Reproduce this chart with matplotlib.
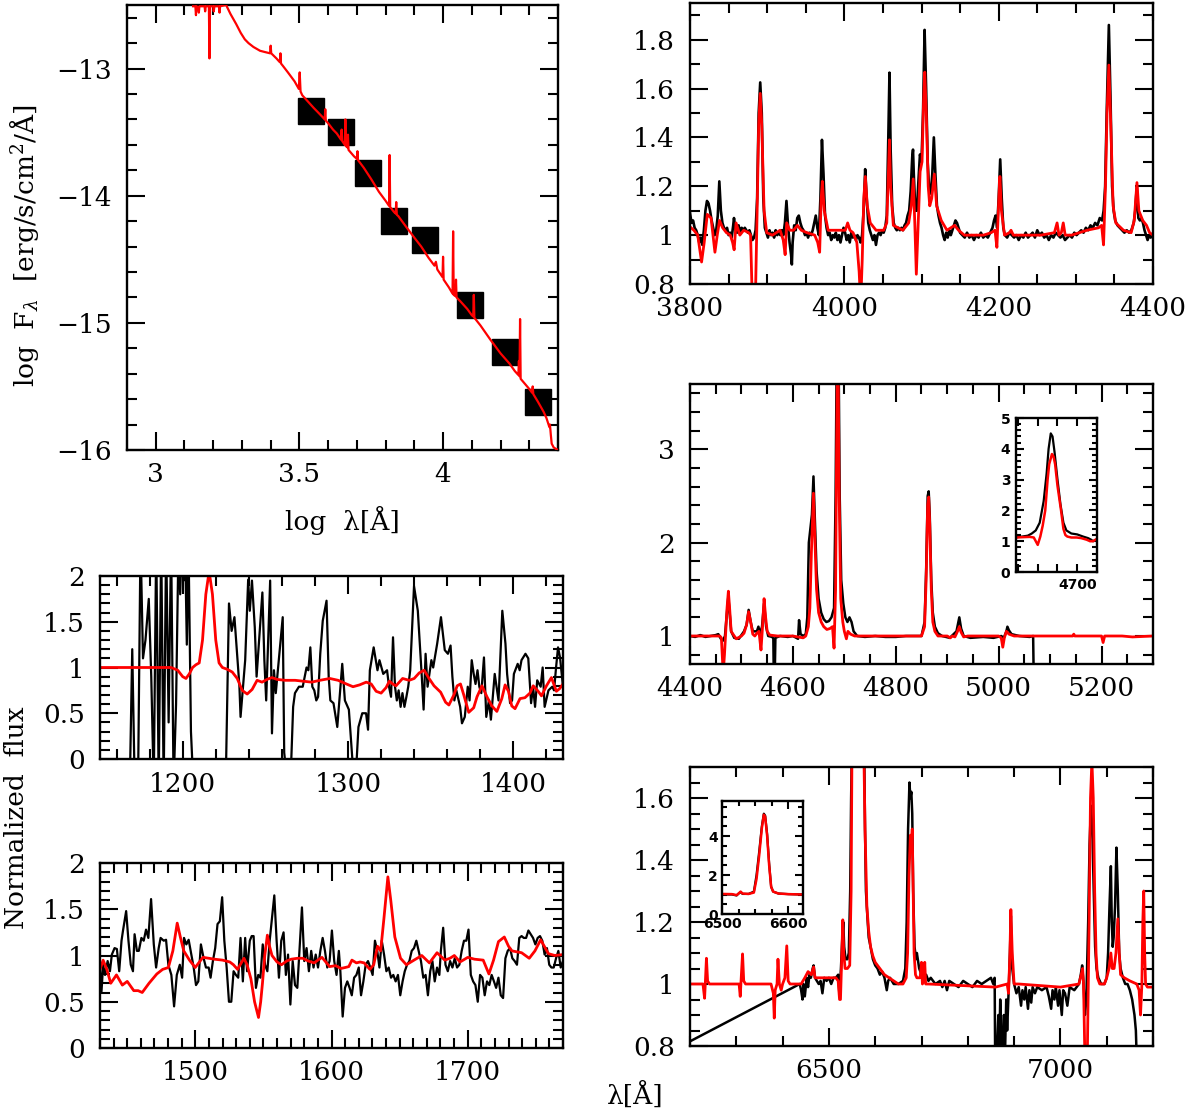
import numpy as np
import matplotlib
matplotlib.use("Agg")
import matplotlib.pyplot as plt
from matplotlib.ticker import MultipleLocator, FixedLocator, FuncFormatter

plt.rcParams['font.family'] = ['DejaVu Serif']
plt.rcParams['mathtext.fontset'] = 'dejavuserif'

# ---------------- DATA ----------------
# SED panel: photometric points (log lambda, log F)
sed_logw = [3.542, 3.646, 3.740, 3.830, 3.937, 4.095, 4.214, 4.331]
sed_logf = [-13.33, -13.50, -13.82, -14.20, -14.35, -14.86, -15.23, -15.62]

# SED model (log lambda, log F)
sed_model = [
    (3.130, -12.51), (3.138, -12.51), (3.140, -12.58), (3.142, -12.51), (3.148, -12.52), (3.150, -12.56),
    (3.152, -12.51), (3.170, -12.51), (3.172, -12.55), (3.174, -12.51), (3.185, -12.51), (3.187, -12.92),
    (3.189, -12.51), (3.200, -12.51), (3.202, -12.55), (3.204, -12.51), (3.220, -12.51), (3.222, -12.56),
    (3.224, -12.51), (3.245, -12.50), (3.260, -12.57), (3.280, -12.65), (3.296, -12.72), (3.310, -12.77),
    (3.323, -12.80), (3.340, -12.83), (3.363, -12.86), (3.380, -12.87), (3.398, -12.88), (3.400, -12.82),
    (3.402, -12.88), (3.420, -12.92), (3.432, -12.95), (3.434, -12.88), (3.436, -12.96), (3.443, -12.98),
    (3.460, -13.03), (3.483, -13.10), (3.498, -13.16), (3.501, -13.03), (3.504, -13.18), (3.510, -13.21),
    (3.530, -13.26), (3.550, -13.31), (3.563, -13.34), (3.580, -13.38), (3.588, -13.40), (3.590, -13.32),
    (3.592, -13.41), (3.600, -13.43), (3.617, -13.48), (3.630, -13.51), (3.645, -13.56), (3.647, -13.48),
    (3.649, -13.57), (3.658, -13.60), (3.660, -13.40), (3.662, -13.61), (3.667, -13.62), (3.669, -13.52),
    (3.671, -13.64), (3.690, -13.69), (3.700, -13.71), (3.702, -13.65), (3.704, -13.72), (3.724, -13.78),
    (3.750, -13.87), (3.777, -13.97), (3.800, -14.04), (3.812, -14.08), (3.814, -13.68), (3.816, -14.09),
    (3.830, -14.13), (3.835, -14.14), (3.837, -14.05), (3.839, -14.15), (3.844, -14.16), (3.870, -14.24),
    (3.900, -14.33), (3.924, -14.40), (3.950, -14.49), (3.970, -14.55), (3.975, -14.52), (3.980, -14.58),
    (3.998, -14.64), (4.000, -14.48), (4.002, -14.66), (4.020, -14.72), (4.033, -14.77), (4.035, -14.28),
    (4.037, -14.78), (4.043, -14.79), (4.045, -14.66), (4.047, -14.80), (4.060, -14.83), (4.084, -14.89),
    (4.100, -14.94), (4.105, -14.95), (4.107, -14.78), (4.109, -14.96), (4.130, -15.02), (4.164, -15.13),
    (4.200, -15.24), (4.231, -15.32), (4.250, -15.38), (4.262, -15.41), (4.264, -15.30), (4.266, -15.42),
    (4.268, -14.97), (4.270, -15.44), (4.300, -15.52), (4.310, -15.55), (4.312, -15.50), (4.314, -15.56),
    (4.330, -15.62), (4.350, -15.70), (4.360, -15.75), (4.370, -15.82), (4.372, -15.80), (4.375, -15.88),
    (4.378, -15.95), (4.385, -15.98), (4.392, -15.99), (4.400, -16.00)]

# UV 1150-1430
uv1_obs = [
    (1168, -0.3), (1169.5, 1.2), (1171, -0.3), (1173, -0.3), (1174.5, 2.4), (1176, 1.1), (1177.5, 1.3),
    (1179.5, 1.75), (1181, 0.9), (1182.5, -0.3), (1184, 2.4), (1185.5, -0.3), (1187, 2.4), (1188.5, -0.3),
    (1190, 2.4), (1191.5, 0.4), (1193, 2.4), (1194.5, -0.3), (1196, 0.6), (1197.5, 2.4), (1198.5, 1.8),
    (1199.5, 2.4), (1200.5, 1.95), (1201.5, 2.3), (1202.5, 1.25), (1203.5, 2.4), (1205, 0.3), (1206.5, -0.3),
    (1216, -0.3), (1226, -0.3), (1228, 1.7), (1229.6, 1.4), (1231.3, 1.55), (1234.3, 0.8), (1235, 0.46),
    (1237.8, 1.08), (1239.6, 1.96), (1240.6, 1.62), (1241.9, 1.95), (1243.6, 1.44), (1244.7, 0.9),
    (1248.2, 1.82), (1249.4, 1.08), (1250.5, 0.64), (1252.9, 1.95), (1254.0, 0.28), (1255.2, 0.97),
    (1256.3, 0.72), (1260.5, 1.55), (1261.4, 0.07), (1262.1, -0.05), (1265.6, -0.05), (1266.8, 0.57),
    (1267.9, 0.72), (1270.3, 0.79), (1272.6, 0.79), (1274.9, 1.0), (1276.0, 0.97), (1277.2, 1.22),
    (1278.4, 0.79), (1279.6, 0.75), (1280.8, 0.64), (1281.9, 0.68), (1283.2, 1.15), (1284.7, 1.51),
    (1287.0, 1.73), (1288.3, 0.9), (1289.3, 0.64), (1291.2, 0.61), (1293.5, 0.35), (1296.5, 1.04),
    (1298.1, 0.64), (1300.5, 0.54), (1302.8, -0.05), (1305.1, -0.05), (1306.3, 0.35), (1308.6, 0.5),
    (1310.9, 0.5), (1312.1, 0.32), (1313.2, 0.97), (1315.5, 1.22), (1317.8, 0.97), (1319.0, 1.08),
    (1321.3, 0.93), (1323.6, 0.97), (1324.8, 0.79), (1326.0, 0.68), (1327.2, 1.33), (1328.4, 0.79),
    (1329.5, 0.64), (1330.6, 0.75), (1331.8, 0.57), (1332.9, 0.72), (1334.1, 0.57), (1335.3, 0.68),
    (1336.4, 0.79), (1337.6, 0.97), (1338.8, 1.44), (1339.9, 1.89), (1342.2, 1.62), (1344.6, 0.9),
    (1345.7, 0.54), (1346.9, 1.15), (1348.1, 0.79), (1350.4, 1.08), (1351.5, 1.0), (1353.9, 1.26),
    (1356.2, 1.55), (1358.5, 1.19), (1360.4, 1.15), (1362.0, 1.24), (1363.1, 0.9), (1364.3, 0.64),
    (1365.5, 0.75), (1367.8, 0.57), (1368.9, 0.39), (1370.6, 0.46), (1372.4, 0.79), (1373.5, 0.64),
    (1374.8, 1.08), (1376.0, 0.93), (1377.1, 0.82), (1378.3, 0.97), (1379.4, 0.79), (1380.6, 0.72),
    (1382.2, 1.11), (1383.6, 0.46), (1385.2, 0.64), (1386.4, 0.43), (1388.7, 0.93), (1391.0, 0.64),
    (1393.3, 1.62), (1395.2, 1.26), (1396.2, 0.93), (1398.0, 0.61), (1399.2, 0.64), (1400.3, 0.93),
    (1402.6, 1.04), (1403.8, 0.97), (1404.9, 1.08), (1407.3, 1.15), (1409.0, 1.1), (1410.7, 0.61),
    (1411.9, 0.79), (1413.1, 0.57), (1414.4, 0.86), (1416.5, 0.79), (1417.7, 1.0), (1418.9, 0.57),
    (1421.2, 0.75), (1423.5, 0.79), (1424.6, 0.75), (1425.8, 1.0), (1427.0, 1.22), (1428.2, 1.11),
    (1430.0, 0.79)]

uv1_model = [
    (1150, 1.0), (1193, 1.0), (1197, 0.97), (1200, 0.9), (1202, 0.88), (1204, 0.93), (1206, 1.0),
    (1208, 1.03), (1210, 1.05), (1212, 1.3), (1214, 1.8), (1216, 2.05), (1218, 1.8), (1220, 1.3),
    (1222, 1.05), (1224, 1.0), (1227, 0.98), (1230, 0.95), (1233, 0.88), (1236, 0.75), (1239, 0.71),
    (1242, 0.76), (1245, 0.86), (1248, 0.84), (1251, 0.87), (1254, 0.89), (1257, 0.87), (1262, 0.86),
    (1268, 0.86), (1273, 0.85), (1278, 0.84), (1283, 0.86), (1289, 0.88), (1294, 0.86), (1299, 0.82),
    (1303, 0.79), (1307, 0.81), (1311, 0.84), (1314, 0.82), (1317, 0.74), (1320, 0.72), (1323, 0.78),
    (1325, 0.85), (1327, 0.82), (1329, 0.80), (1333, 0.88), (1337, 0.86), (1340, 0.88), (1343, 0.94),
    (1346, 0.97), (1349, 0.88), (1352, 0.80), (1356, 0.73), (1359, 0.62), (1361, 0.59), (1364, 0.70),
    (1366, 0.80), (1368, 0.82), (1370, 0.70), (1373, 0.51), (1376, 0.56), (1378, 0.68), (1381, 0.80),
    (1384, 0.68), (1387, 0.58), (1390, 0.52), (1393, 0.66), (1395, 0.81), (1397, 0.74), (1399, 0.58),
    (1401, 0.55), (1404, 0.66), (1407, 0.67), (1410, 0.72), (1412, 0.80), (1415, 0.74), (1417, 0.69),
    (1420, 0.80), (1423, 0.89), (1426, 0.74), (1428, 0.77), (1430, 0.82)]

# UV 1430-1770
uv2_obs = [
    (1430.0, 0.87), (1431.1, 0.61), (1432.3, 0.90), (1433.7, 0.79), (1435.6, 0.94), (1437.3, 0.83),
    (1438.7, 1.01), (1440.7, 1.08), (1442.4, 1.07), (1444.1, 0.83), (1445.8, 1.16), (1446.9, 1.27),
    (1449.2, 1.48), (1450.9, 1.16), (1452.6, 0.90), (1454.2, 0.83), (1455.4, 1.23), (1457.1, 1.05),
    (1458.5, 1.05), (1460.4, 1.19), (1462.1, 1.16), (1463.8, 1.28), (1465.5, 1.19), (1467.5, 1.61),
    (1469.5, 1.12), (1471.2, 0.87), (1473.1, 1.08), (1474.5, 1.19), (1476.8, 1.16), (1478.5, 1.17),
    (1480.2, 0.90), (1482.4, 0.79), (1484.4, 0.45), (1486.4, 0.79), (1488.6, 0.90), (1490.3, 0.76),
    (1491.7, 1.19), (1493.4, 1.12), (1495.1, 1.17), (1497.1, 1.01), (1498.8, 0.87), (1500.5, 0.68),
    (1502.2, 0.72), (1504.1, 1.12), (1506.1, 0.97), (1507.8, 0.87), (1509.8, 0.87), (1511.2, 0.76),
    (1512.9, 0.94), (1514.6, 1.08), (1516.3, 1.34), (1518.0, 1.37), (1519.7, 1.63), (1521.3, 1.16),
    (1523.0, 0.87), (1524.7, 0.50), (1526.4, 0.50), (1528.1, 0.83), (1529.8, 0.79), (1531.5, 0.76),
    (1533.2, 1.19), (1534.9, 0.72), (1536.6, 1.19), (1538.0, 0.83), (1540.0, 1.16), (1541.4, 1.21),
    (1542.8, 1.21), (1544.5, 0.65), (1546.2, 0.79), (1547.8, 0.76), (1549.5, 1.12), (1551.2, 0.90),
    (1552.9, 0.83), (1554.6, 1.16), (1556.3, 1.41), (1558.0, 1.65), (1559.7, 1.16), (1561.4, 0.76),
    (1563.1, 1.16), (1564.8, 1.25), (1566.5, 0.79), (1568.1, 1.01), (1569.8, 0.47), (1571.5, 0.94),
    (1573.2, 0.68), (1574.9, 0.65), (1576.6, 1.08), (1578.3, 1.52), (1580.0, 0.94), (1581.7, 1.08),
    (1583.4, 0.83), (1585.1, 1.05), (1586.8, 0.87), (1588.4, 1.01), (1590.1, 0.87), (1591.8, 1.05),
    (1593.5, 1.19), (1595.2, 1.05), (1596.9, 0.87), (1598.6, 0.94), (1600.3, 1.27), (1602.0, 0.94),
    (1603.7, 0.79), (1605.4, 1.05), (1606.5, 0.83), (1608.2, 0.34), (1609.9, 0.65), (1611.6, 0.72),
    (1613.3, 0.65), (1614.9, 0.57), (1616.6, 0.76), (1618.3, 0.79), (1620.0, 0.87), (1621.7, 0.57),
    (1623.4, 0.72), (1625.1, 0.90), (1626.8, 0.94), (1628.5, 0.87), (1630.2, 0.79), (1631.9, 1.16),
    (1633.6, 1.05), (1635.2, 0.87), (1636.9, 1.16), (1638.6, 1.01), (1640.3, 0.83), (1642.0, 0.87),
    (1643.7, 0.76), (1645.4, 0.79), (1647.1, 0.72), (1648.8, 0.79), (1650.5, 0.57), (1652.2, 0.72),
    (1653.8, 0.83), (1655.5, 0.90), (1657.2, 0.94), (1658.9, 1.05), (1660.6, 1.08), (1662.3, 1.16),
    (1664.0, 1.05), (1665.7, 0.94), (1667.4, 0.76), (1669.1, 0.79), (1670.8, 0.57), (1672.5, 0.83),
    (1674.1, 0.94), (1675.8, 0.72), (1677.5, 0.87), (1679.2, 0.79), (1680.3, 1.05), (1682.0, 1.30),
    (1683.7, 0.90), (1685.4, 0.83), (1687.1, 0.94), (1688.8, 0.87), (1690.5, 0.97), (1692.2, 0.87),
    (1693.9, 0.90), (1695.6, 1.05), (1697.3, 1.16), (1699.0, 1.16), (1700.6, 1.28), (1702.3, 0.79),
    (1704.0, 0.72), (1705.7, 0.68), (1707.4, 0.50), (1709.1, 0.79), (1710.8, 0.76), (1712.5, 0.57),
    (1714.2, 0.72), (1715.9, 0.68), (1717.6, 0.79), (1719.3, 0.72), (1720.9, 0.65), (1722.6, 0.76),
    (1724.3, 0.57), (1726.0, 0.54), (1727.7, 0.97), (1729.4, 1.05), (1731.1, 1.08), (1732.8, 0.97),
    (1734.5, 0.94), (1736.2, 0.90), (1737.9, 1.19), (1739.6, 1.21), (1741.2, 1.19), (1742.9, 1.19),
    (1744.6, 1.27), (1746.3, 1.23), (1748.0, 1.19), (1749.7, 1.12), (1751.4, 1.19), (1753.1, 1.21),
    (1754.8, 1.16), (1756.5, 1.01), (1758.2, 1.08), (1759.9, 0.90), (1761.5, 0.87), (1763.2, 0.87),
    (1764.9, 0.97), (1766.6, 1.05), (1768.3, 0.87), (1770.0, 0.94)]

uv2_model = [
    (1430, 0.85), (1432.3, 0.95), (1435, 0.85), (1437.9, 0.70), (1442.1, 0.79), (1446.4, 0.68),
    (1450, 0.72), (1454.8, 0.62), (1458, 0.62), (1461, 0.60), (1466, 0.70), (1471.7, 0.80), (1476, 0.85),
    (1480.2, 0.87), (1483.5, 1.05), (1486.7, 1.35), (1489, 1.2), (1491.5, 1.05), (1495.7, 0.95),
    (1499.9, 0.87), (1503, 0.93), (1505.6, 0.98), (1510, 0.97), (1514, 0.96), (1520, 0.95), (1525.3, 0.93),
    (1528, 0.90), (1531, 0.85), (1535.7, 0.97), (1538, 0.9), (1540.8, 0.75), (1543.5, 0.5), (1546.4, 0.33),
    (1548, 0.5), (1549.3, 0.7), (1551, 1.0), (1552.9, 1.22), (1554.5, 1.1), (1556.3, 1.0), (1560, 0.93),
    (1563.3, 0.90), (1567, 0.94), (1570.4, 0.96), (1575, 0.97), (1578.9, 0.97), (1583, 0.94),
    (1587.3, 0.92), (1590, 0.95), (1593, 0.98), (1598.6, 0.88), (1603, 0.89), (1607, 0.86), (1610, 0.87),
    (1612.7, 0.88), (1615, 0.95), (1618.3, 0.92), (1621, 0.93), (1624, 0.92), (1628.2, 0.85), (1631, 0.90),
    (1633.8, 1.10), (1636.1, 1.05), (1638.5, 1.4), (1641.4, 1.85), (1643.5, 1.6), (1646.5, 1.2),
    (1650.7, 0.97), (1655, 0.90), (1660.6, 0.95), (1666.3, 1.0), (1671.9, 0.92), (1677.5, 1.03),
    (1683.2, 0.95), (1687, 0.97), (1690.2, 1.0), (1694.4, 0.93), (1700.1, 0.98), (1705, 0.96),
    (1711.4, 0.95), (1715.6, 0.80), (1719, 0.95), (1722.6, 1.15), (1726.9, 1.20), (1730, 1.1),
    (1732.5, 1.05), (1736, 1.04), (1739.6, 1.03), (1745.2, 0.97), (1749.4, 1.05), (1753.6, 1.17),
    (1757, 1.08), (1759.3, 1.02), (1764, 1.0), (1770, 1.01)]

# Optical 3800-4400
opt1_obs = [
    (3800, 1.09), (3802, 1.05), (3804, 1.06), (3806, 1.03), (3808, 1.02), (3810, 1.0), (3812, 0.97),
    (3814, 0.99), (3816, 0.96), (3818, 1.02), (3820, 1.10), (3822, 1.14), (3824, 1.13), (3826, 1.10),
    (3828, 1.06), (3830, 1.03), (3832, 1.0), (3834, 1.02), (3836, 1.08), (3838, 1.22), (3840, 1.10),
    (3842, 1.05), (3844, 1.03), (3846, 1.02), (3848, 1.03), (3850, 1.0), (3852, 1.01), (3854, 0.99),
    (3856, 1.04), (3857, 1.07), (3859, 1.02), (3861, 1.01), (3863, 1.04), (3865, 1.01), (3867, 1.03),
    (3869, 1.02), (3871, 1.03), (3873, 1.02), (3875, 1.01), (3877, 1.02), (3879, 1.0), (3881, 0.98),
    (3883, 0.99), (3885, 1.02), (3887, 1.15), (3889, 1.50), (3891, 1.625), (3893, 1.5), (3895, 1.15),
    (3897, 1.03), (3899, 1.01), (3901, 0.99), (3903, 1.02), (3905, 1.0), (3907, 1.01), (3909, 0.99),
    (3911, 1.02), (3913, 1.0), (3915, 1.01), (3917, 1.0), (3919, 1.02), (3921, 1.0), (3923, 1.05),
    (3925, 1.14), (3927, 1.04), (3929, 0.97), (3931, 0.92), (3932, 0.88), (3933, 0.97), (3935, 1.04),
    (3937, 1.02), (3939, 1.07), (3941, 1.08), (3943, 1.05), (3945, 1.03), (3947, 1.02), (3949, 1.0),
    (3951, 1.01), (3953, 0.99), (3955, 1.01), (3957, 1.0), (3959, 1.02), (3961, 1.05), (3963, 1.08),
    (3965, 1.03), (3967, 1.0), (3969, 1.15), (3971, 1.39), (3973, 1.25), (3975, 1.08), (3977, 1.03),
    (3979, 1.0), (3981, 1.01), (3983, 0.98), (3985, 1.0), (3987, 0.99), (3989, 1.01), (3991, 0.98),
    (3993, 1.0), (3995, 0.97), (3997, 1.0), (3999, 1.03), (4001, 1.01), (4003, 0.98), (4005, 1.0),
    (4007, 0.97), (4009, 1.01), (4011, 0.99), (4013, 1.0), (4015, 0.98), (4017, 1.0), (4019, 0.99),
    (4021, 0.97), (4023, 1.0), (4025, 1.1), (4027, 1.27), (4029, 1.15), (4031, 1.05), (4033, 1.02),
    (4035, 1.0), (4037, 0.98), (4039, 1.0), (4041, 0.96), (4043, 1.0), (4045, 1.01), (4047, 1.0),
    (4049, 1.02), (4051, 1.01), (4053, 1.03), (4055, 1.08), (4057, 1.4), (4058.5, 1.665), (4060, 1.35),
    (4062, 1.12), (4064, 1.05), (4066, 1.03), (4068, 1.02), (4070, 1.03), (4072, 1.02), (4074, 1.03),
    (4076, 1.02), (4078, 1.04), (4080, 1.05), (4082, 1.08), (4084, 1.1), (4086, 1.18), (4088, 1.32),
    (4089, 1.35), (4090, 1.25), (4092, 1.1), (4094, 1.1), (4096, 1.22), (4098, 1.33), (4100, 1.3),
    (4102, 1.5), (4104, 1.84), (4106, 1.6), (4108, 1.3), (4110, 1.18), (4112, 1.17), (4114, 1.25),
    (4116, 1.40), (4118, 1.25), (4120, 1.12), (4122, 1.08), (4124, 1.05), (4126, 1.03), (4128, 1.0),
    (4130, 0.98), (4132, 1.01), (4134, 0.99), (4136, 1.02), (4138, 1.0), (4140, 1.02), (4142, 1.04),
    (4144, 1.06), (4146, 1.05), (4148, 1.03), (4150, 1.01), (4153, 1.0), (4156, 0.99), (4159, 1.01),
    (4162, 0.99), (4165, 1.0), (4168, 0.98), (4171, 1.0), (4174, 0.99), (4177, 1.01), (4180, 0.99),
    (4183, 1.0), (4186, 0.99), (4189, 1.01), (4192, 1.03), (4194, 1.06), (4196, 1.08), (4198, 1.03),
    (4200, 1.15), (4202, 1.31), (4204, 1.15), (4206, 1.03), (4208, 1.0), (4211, 0.99), (4214, 1.01),
    (4217, 1.0), (4220, 0.99), (4223, 1.0), (4226, 0.98), (4229, 1.0), (4232, 0.99), (4235, 1.01),
    (4238, 0.99), (4241, 1.0), (4244, 1.01), (4247, 0.99), (4250, 1.02), (4253, 1.0), (4256, 1.01),
    (4259, 0.99), (4262, 1.0), (4265, 0.98), (4268, 1.0), (4271, 0.99), (4274, 1.01), (4277, 1.0),
    (4280, 0.99), (4283, 1.0), (4286, 0.98), (4289, 0.99), (4292, 1.0), (4295, 0.99), (4298, 1.01),
    (4301, 1.0), (4304, 1.01), (4307, 1.02), (4310, 1.01), (4313, 1.03), (4316, 1.02), (4319, 1.04),
    (4322, 1.03), (4325, 1.05), (4328, 1.04), (4331, 1.07), (4334, 1.06), (4336, 1.1), (4338, 1.2),
    (4340, 1.5), (4342.8, 1.86), (4345, 1.55), (4347, 1.2), (4349, 1.1), (4351, 1.06), (4354, 1.04),
    (4357, 1.03), (4360, 1.02), (4363, 1.01), (4366, 1.02), (4369, 1.01), (4372, 1.02), (4375, 1.05),
    (4377, 1.1), (4379, 1.2), (4381, 1.07), (4383, 1.06), (4385, 1.07), (4387, 1.05), (4389, 1.02),
    (4391, 1.0), (4393, 0.98), (4395, 1.0), (4397, 0.99), (4400, 1.0)]

opt1_model = [
    (3800, 1.034), (3805, 1.02), (3810, 1.0), (3815, 0.89), (3818.4, 0.97), (3822.4, 1.085), (3827.3, 1.07),
    (3829.8, 1.0), (3832.3, 0.93), (3835.3, 1.0), (3838.3, 1.06), (3842.3, 1.03), (3847.2, 1.01),
    (3852.2, 1.0), (3855.2, 0.97), (3857.2, 0.94), (3859.7, 1.05), (3864.6, 1.0), (3869.6, 1.02),
    (3876.1, 1.01), (3878.5, 1.0), (3881, 0.7), (3883, 0.75), (3884.5, 0.7), (3887, 1.1), (3889, 1.45),
    (3891, 1.58), (3893, 1.45), (3896, 1.1), (3899.4, 1.01), (3906.9, 1.0), (3916.8, 1.02), (3920.8, 0.98),
    (3923.3, 0.92), (3925.3, 1.05), (3929.2, 1.02), (3934.2, 1.02), (3939.2, 1.04), (3944.2, 1.02),
    (3951.6, 1.01), (3961.6, 1.0), (3965.5, 0.97), (3968, 0.93), (3970, 1.15), (3971.5, 1.22), (3974, 1.1),
    (3979, 1.02), (3996.4, 1.02), (4001.3, 1.02), (4004.3, 1.05), (4007.3, 1.02), (4011.3, 1.01),
    (4016.2, 0.97), (4019.2, 0.85), (4021.2, 0.72), (4023.2, 0.9), (4025.2, 1.15), (4027.2, 1.24),
    (4029.7, 1.12), (4033.6, 1.05), (4041.1, 1.02), (4051, 1.02), (4055, 1.05), (4057, 1.25), (4058.5, 1.39),
    (4060, 1.2), (4063.5, 1.04), (4075.9, 1.02), (4083.4, 1.05), (4086.8, 1.12), (4089.3, 1.23),
    (4091.3, 1.05), (4093.3, 0.84), (4095.2, 1.0), (4098.2, 1.26), (4100.7, 1.3), (4102.7, 1.55),
    (4104.2, 1.667), (4106.2, 1.5), (4108.7, 1.2), (4110.7, 1.12), (4113.2, 1.15), (4116.6, 1.25),
    (4119.6, 1.12), (4125.6, 1.06), (4133, 1.02), (4138, 1.03), (4143, 1.04), (4148, 1.02), (4155.4, 1.0),
    (4180.3, 1.0), (4190.2, 1.01), (4195.2, 1.02), (4197.7, 0.95), (4200.2, 1.15), (4201.6, 1.24),
    (4203.6, 1.1), (4207.6, 1.0), (4214, 1.01), (4216, 1.02), (4219, 1.0), (4230, 1.0), (4254.8, 1.0),
    (4272.2, 1.01), (4275.7, 1.05), (4278.2, 1.0), (4281.2, 1.01), (4283.7, 1.05), (4286.2, 1.0),
    (4294.6, 1.0), (4314.5, 1.02), (4329.4, 1.03), (4333.4, 1.04), (4335.9, 0.96), (4338.4, 1.2),
    (4340.4, 1.5), (4342.8, 1.696), (4345.3, 1.45), (4348.3, 1.12), (4351.8, 1.05), (4361.7, 1.02),
    (4371.7, 1.01), (4375.7, 1.06), (4379.2, 1.215), (4381.7, 1.1), (4386.7, 1.06), (4391.6, 1.04),
    (4395.6, 1.01), (4400, 1.0)]

# Optical 4400-5300
opt2_obs = [
    (4400, 1.0), (4410, 0.99), (4420, 1.01), (4430, 0.99), (4440, 1.0), (4450, 1.01), (4455, 1.02),
    (4460, 0.97), (4464, 0.95), (4468, 1.0), (4471, 1.2), (4474.5, 1.42), (4477, 1.25), (4480, 1.05),
    (4486, 0.98), (4495, 0.97), (4505, 1.05), (4510, 1.12), (4514, 1.28), (4518, 1.15), (4522, 1.05),
    (4530, 1.05), (4533, 1.1), (4536, 1.02), (4540, 1.1), (4544, 1.35), (4548, 1.1), (4552, 1.0),
    (4560, 0.99), (4562, 0.97), (4563, 0.5), (4564.5, 0.5), (4566, 0.98), (4575, 1.0), (4590, 0.99),
    (4600, 1.0), (4610, 0.97), (4612, 1.17), (4615, 1.02), (4620, 1.0), (4625, 1.02), (4628, 1.2),
    (4631, 2.0), (4633, 2.1), (4637, 2.3), (4640, 2.71), (4643, 2.2), (4646, 1.7), (4650, 1.4),
    (4655, 1.25), (4660, 1.18), (4665, 1.15), (4670, 1.16), (4675, 1.2), (4680, 1.3), (4683, 2.5),
    (4685, 3.9), (4689, 3.9), (4691, 2.5), (4694, 1.6), (4698, 1.35), (4702, 1.2), (4706, 1.15),
    (4710, 1.2), (4714, 1.15), (4718, 1.05), (4725, 1.0), (4740, 0.99), (4760, 1.0), (4780, 0.99),
    (4800, 0.99), (4820, 1.0), (4850, 1.0), (4856, 1.15), (4859, 1.7), (4862, 2.5), (4864, 2.55),
    (4866, 2.3), (4869, 1.6), (4872, 1.25), (4876, 1.1), (4882, 1.03), (4890, 1.0), (4905, 0.98),
    (4918, 1.05), (4923.5, 1.2), (4927, 1.08), (4932, 1.0), (4945, 0.98), (4970, 0.99), (4990, 0.98),
    (5005, 1.0), (5010, 0.98), (5015, 1.05), (5017, 1.1), (5020, 1.06), (5025, 1.02), (5040, 1.0),
    (5060, 0.99), (5067, 1.0), (5068, 0.6)]

opt2_model = [
    (4400, 1.0), (4458, 1.0), (4461, 0.98), (4464.5, 0.6), (4467, 0.8), (4469, 1.0), (4472, 1.3),
    (4474.6, 1.48), (4477, 1.3), (4480, 1.05), (4486, 1.0), (4490, 0.97), (4500, 1.0), (4505, 1.03),
    (4510, 1.12), (4514, 1.26), (4518, 1.15), (4522, 1.02), (4526, 1.0), (4530, 1.03), (4534, 1.05),
    (4536, 0.95), (4538, 0.85), (4541, 1.1), (4544, 1.40), (4547, 1.2), (4550, 1.05), (4555, 1.01),
    (4570, 1.0), (4600, 1.0), (4610, 0.99), (4620, 0.98), (4625, 1.0), (4630, 1.1), (4633, 1.3),
    (4636, 1.9), (4640, 2.53), (4643, 2.0), (4646, 1.5), (4650, 1.25), (4655, 1.15), (4660, 1.1),
    (4666, 1.07), (4672, 1.08), (4677, 1.1), (4680, 0.87), (4683, 1.5), (4685, 3.0), (4686.5, 3.9),
    (4688, 3.9), (4690, 2.5), (4693, 1.4), (4697, 1.15), (4700, 1.05), (4704, 0.97), (4707, 1.05),
    (4712, 1.02), (4720, 1.0), (4850, 1.0), (4856, 1.1), (4859, 1.6), (4862, 2.4), (4864, 2.49),
    (4866, 2.2), (4869, 1.5), (4872, 1.15), (4876, 1.05), (4882, 1.0), (4900, 1.0), (4906, 0.98),
    (4910, 1.0), (4915, 0.99), (4920, 1.05), (4923.5, 1.1), (4927, 1.04), (4932, 0.99), (4940, 1.0),
    (5000, 1.0), (5005, 0.98), (5008, 0.88), (5011, 0.98), (5015, 1.05), (5020, 1.02), (5030, 1.0),
    (5100, 1.0), (5144, 1.0), (5146, 1.02), (5148, 1.0), (5200, 1.0), (5203, 0.93), (5206, 1.0),
    (5240, 1.0), (5260, 0.99), (5300, 1.0)]

# He II 4686 inset
heii_obs = [
    (4669.3, 1.13), (4672, 1.15), (4675, 1.18), (4677, 1.25), (4679, 1.35), (4681, 1.6), (4683, 2.3),
    (4684.5, 3.2), (4685.5, 4.0), (4686.6, 4.5), (4687.5, 4.4), (4688.5, 3.9), (4690, 3.0), (4691.5, 2.2),
    (4693, 1.6), (4694.5, 1.35), (4697, 1.25), (4700, 1.22), (4703, 1.15), (4705.5, 1.1), (4707, 1.05),
    (4708, 1.0), (4710, 1.05)]
heii_model = [
    (4669.3, 1.12), (4672, 1.13), (4676, 1.14), (4678, 1.12), (4679, 1.0), (4680, 0.88), (4681.3, 1.15),
    (4682.5, 1.5), (4683.8, 2.0), (4685, 3.0), (4685.8, 3.5), (4687.2, 3.83), (4688, 3.75), (4688.8, 3.5),
    (4690, 2.8), (4691.8, 2.0), (4693, 1.4), (4694, 1.2), (4695, 1.15), (4697, 1.12), (4699.7, 1.12),
    (4702, 1.1), (4704.7, 1.05), (4706.5, 1.0), (4708, 1.0), (4710, 1.08)]

# Optical 6200-7200
opt3_obs = [
    (6200, 0.815), (6437, 1.0), (6440, 0.98), (6443, 0.95), (6445, 1.0), (6448, 0.96), (6452, 1.02),
    (6455, 0.99), (6458, 1.03), (6461, 1.02), (6465, 1.05), (6467, 1.06), (6470, 1.02), (6474, 1.01),
    (6478, 1.0), (6482, 1.01), (6486, 0.97), (6490, 1.02), (6495, 1.01), (6500, 1.02), (6505, 1.0),
    (6510, 1.02), (6515, 1.02), (6520, 1.03), (6523, 0.96), (6526, 1.05), (6529, 1.15), (6531, 1.2),
    (6533, 1.12), (6536, 1.08), (6540, 1.08), (6543, 1.1), (6546, 1.3), (6548, 1.6), (6550, 1.8),
    (6576, 1.8), (6578, 1.5), (6580, 1.3), (6583, 1.22), (6586, 1.15), (6590, 1.12), (6595, 1.08),
    (6600, 1.06), (6605, 1.05), (6610, 1.03), (6615, 1.04), (6620, 1.02), (6625, 0.98), (6628, 1.01),
    (6632, 1.02), (6640, 1.0), (6650, 1.0), (6660, 1.01), (6665, 1.05), (6668, 1.2), (6671, 1.5),
    (6674, 1.65), (6676, 1.6), (6678, 1.62), (6680, 1.55), (6682, 1.3), (6685, 1.12), (6688, 1.08),
    (6690, 1.1), (6692, 1.08), (6695, 1.05), (6700, 1.03), (6705, 1.02), (6710, 1.03), (6715, 1.01),
    (6720, 1.02), (6730, 1.0), (6740, 1.01), (6745, 0.99), (6750, 1.01), (6755, 0.98), (6760, 1.01),
    (6770, 1.0), (6780, 0.99), (6790, 1.01), (6800, 1.0), (6810, 0.99), (6820, 1.01), (6830, 1.0),
    (6840, 1.01), (6850, 1.02), (6855, 1.0), (6858, 1.02), (6859, 0.78), (6862, 0.75), (6866, 0.9),
    (6868, 0.78), (6870, 0.95), (6872, 0.85), (6874, 0.75), (6876, 0.78), (6878, 0.9), (6880, 0.75),
    (6883, 0.95), (6885, 0.85), (6888, 0.97), (6891, 1.1), (6893, 1.22), (6896, 1.05), (6900, 1.0),
    (6905, 0.97), (6910, 0.99), (6915, 0.93), (6918, 0.98), (6922, 0.95), (6925, 0.99), (6930, 0.92),
    (6933, 0.98), (6937, 0.94), (6940, 0.99), (6945, 0.97), (6950, 0.99), (6960, 0.98), (6970, 0.99),
    (6975, 0.96), (6980, 0.92), (6983, 0.98), (6987, 0.95), (6990, 0.99), (6995, 0.93), (6998, 0.98),
    (7003, 0.9), (7006, 0.98), (7010, 0.97), (7015, 0.93), (7020, 0.99), (7030, 0.98), (7040, 1.0),
    (7044, 1.03), (7047, 1.06), (7050, 1.0), (7053, 0.9), (7056, 0.95), (7060, 1.2), (7063, 1.45),
    (7066, 1.575), (7069, 1.5), (7072, 1.3), (7075, 1.12), (7078, 1.05), (7082, 1.02), (7088, 1.0),
    (7095, 1.0), (7100, 1.02), (7103, 1.1), (7106, 1.25), (7109, 1.38), (7111, 1.2), (7113, 1.12),
    (7115, 1.15), (7118, 1.25), (7121, 1.44), (7124, 1.3), (7127, 1.1), (7130, 1.05), (7135, 1.02),
    (7140, 1.0), (7145, 1.0), (7150, 0.98), (7155, 0.95), (7160, 0.9), (7163, 0.85), (7165, 0.75)]

opt3_model = [
    (6200, 1.0), (6228, 1.0), (6231.5, 0.954), (6233, 1.0), (6235.5, 1.083), (6238, 1.01), (6242, 1.0),
    (6306, 1.0), (6308.5, 0.96), (6311, 1.03), (6313.5, 1.097), (6316, 1.01), (6320, 1.0), (6375, 1.0),
    (6380, 0.97), (6382, 0.89), (6384, 0.98), (6388, 1.0), (6390, 1.08), (6393, 1.0), (6397, 0.98),
    (6400, 1.0), (6405, 1.02), (6409, 1.123), (6412, 1.01), (6416, 1.0), (6440, 1.0), (6448, 1.02),
    (6455, 1.04), (6462, 1.03), (6467, 1.055), (6470, 1.02), (6478, 1.02), (6490, 1.02), (6515, 1.02),
    (6520, 1.01), (6523, 0.95), (6525, 0.95), (6528, 1.1), (6530, 1.207), (6532, 1.1), (6535, 1.05),
    (6540, 1.05), (6545, 1.06), (6548, 1.3), (6550, 1.8), (6575, 1.8), (6578, 1.5), (6582, 1.25),
    (6586, 1.17), (6590, 1.12), (6595, 1.09), (6600, 1.07), (6610, 1.05), (6620, 1.03), (6630, 1.02),
    (6640, 1.01), (6650, 1.0), (6660, 1.0), (6667, 1.02), (6670, 1.1), (6673, 1.35), (6676, 1.48),
    (6678, 1.45), (6680, 1.5), (6682, 1.3), (6684, 1.1), (6687, 1.03), (6690, 1.02), (6697, 1.02),
    (6700, 1.07), (6702, 1.0), (6705, 1.01), (6707, 1.07), (6709, 1.0), (6715, 1.0), (6860, 0.99),
    (6885, 1.0), (6888, 0.97), (6891, 1.1), (6893, 1.24), (6896, 1.1), (6900, 1.0), (6910, 1.0),
    (7000, 0.99), (7040, 1.0), (7045, 1.03), (7048, 1.05), (7050, 1.0), (7053, 0.75), (7058, 0.75),
    (7062, 1.2), (7065, 1.6), (7068, 1.72), (7071, 1.6), (7074, 1.3), (7077, 1.1), (7080, 1.02),
    (7085, 1.0), (7095, 1.0), (7100, 1.02), (7105, 1.05), (7109, 1.1), (7112, 1.05), (7116, 1.05),
    (7120, 1.1), (7124, 1.21), (7127, 1.1), (7130, 1.03), (7138, 1.02), (7150, 1.01), (7165, 1.0),
    (7170, 0.98), (7173, 0.9), (7176, 1.0), (7178, 1.2), (7180, 1.3), (7182, 1.1), (7184, 1.0),
    (7188, 0.99), (7200, 0.99)]

# H-alpha inset
ha_obs = [
    (6500, 1.0), (6515, 1.0), (6522, 0.95), (6525, 1.05), (6528, 1.12), (6531, 1.03), (6540, 1.03),
    (6548, 1.15), (6552, 2.0), (6556, 3.2), (6560, 4.5), (6563, 5.15), (6565, 5.05), (6568, 4.1),
    (6571, 2.6), (6574, 1.4), (6577, 1.15), (6585, 1.05), (6600, 1.02), (6622, 1.0)]
ha_model = [
    (6500, 1.03), (6515, 1.02), (6522, 0.97), (6525, 1.05), (6528, 1.15), (6531, 1.05), (6540, 1.03),
    (6548, 1.1), (6552, 1.8), (6556, 3.0), (6560, 4.4), (6563, 5.1), (6565, 5.0), (6568, 4.0),
    (6571, 2.5), (6574, 1.4), (6577, 1.15), (6585, 1.05), (6600, 1.02), (6622, 1.0)]

# ---------------- PLOT ----------------
W, H = 1200, 1119
fig = plt.figure(figsize=(W / 100, H / 100), dpi=100)
RED = '#ff0000'
FS = 19


def add_ax(l, t, r, b):
    return fig.add_axes([l / W, 1 - b / H, (r - l) / W, (b - t) / H])


fmt = FuncFormatter(lambda v, p: ('%g' % round(v, 6)).replace('-', '\u2212'))


def style(ax, xmaj, xmin, ymaj, ymin, fs=FS, L=13, l=7, xpad=9, ypad=11):
    ax.xaxis.set_major_locator(MultipleLocator(xmaj))
    ax.xaxis.set_minor_locator(MultipleLocator(xmin))
    ax.yaxis.set_major_locator(MultipleLocator(ymaj))
    ax.yaxis.set_minor_locator(MultipleLocator(ymin))
    ax.xaxis.set_major_formatter(fmt)
    ax.yaxis.set_major_formatter(fmt)
    ax.tick_params(which='both', direction='in', top=True, right=True, width=1.5, color='black')
    ax.tick_params(which='major', length=L, labelsize=fs)
    ax.tick_params(which='minor', length=l)
    ax.tick_params(axis='x', which='major', pad=xpad)
    ax.tick_params(axis='y', which='major', pad=ypad)
    for s in ax.spines.values():
        s.set_linewidth(1.7)


def draw(ax, obs, model, lw_o=1.6, lw_m=2.0):
    if obs is not None:
        x, y = np.array(obs).T
        ax.plot(x, y, color='black', lw=lw_o)
    if model is not None:
        x, y = np.array(model).T
        ax.plot(x, y, color=RED, lw=lw_m)


# Panel A: SED
axA = add_ax(127, 5, 558, 450)
axA.plot(sed_logw, sed_logf, 's', color='black', markersize=19, zorder=2)
mx, my = np.array(sed_model).T
axA.plot(mx, my, color=RED, lw=1.6, zorder=3)
axA.set_xlim(2.9, 4.4)
axA.set_ylim(-16, -12.5)
style(axA, 0.5, 0.1, 1, 0.2)

# Panel B: UV 1150-1430
axB = add_ax(100, 576, 563, 759)
draw(axB, uv1_obs, uv1_model)
axB.set_xlim(1150, 1430)
axB.set_ylim(0, 2)
style(axB, 100, 20, 0.5, 0.1)

# Panel C: UV 1430-1770
axC = add_ax(100, 863, 563, 1048)
draw(axC, uv2_obs, uv2_model)
axC.set_xlim(1430, 1770)
axC.set_ylim(0, 2)
style(axC, 100, 10, 0.5, 0.1)

# Panel D
axD = add_ax(690, 3, 1153, 284)
draw(axD, opt1_obs, opt1_model, lw_o=1.9)
axD.set_xlim(3800, 4400)
axD.set_ylim(0.8, 1.95)
style(axD, 200, 50, 0.2, 0.1)

# Panel E
axE = add_ax(690, 384, 1153, 664)
draw(axE, opt2_obs, opt2_model, lw_o=1.8)
axE.set_xlim(4400, 5300)
axE.set_ylim(0.7, 3.7)
style(axE, 200, 50, 1, 0.2)

# Inset E
axEi = add_ax(1016, 418, 1097, 572)
draw(axEi, heii_obs, heii_model, lw_o=1.6, lw_m=1.8)
axEi.set_xlim(4669, 4710)
axEi.set_ylim(0, 5)
style(axEi, 10, 10, 1, 0.2, fs=10, L=6, l=3.5, xpad=4, ypad=4)
axEi.xaxis.set_major_formatter(FuncFormatter(lambda v, p: '4700' if abs(v - 4700) < 1 else ''))

# Panel F
axF = add_ax(690, 767, 1153, 1046)
draw(axF, opt3_obs, opt3_model, lw_o=1.8)
axF.set_xlim(6200, 7200)
axF.set_ylim(0.8, 1.7)
style(axF, 500, 100, 0.2, 0.05)

# Inset F
axFi = add_ax(722, 801, 803, 914)
draw(axFi, ha_obs, ha_model, lw_o=1.6, lw_m=1.8)
axFi.set_xlim(6500, 6622)
axFi.set_ylim(0, 5.8)
style(axFi, 100, 25, 2, 0.5, fs=10, L=6, l=3.5, xpad=2, ypad=3)

for ax in (axEi, axFi):
    for t in ax.get_xticklabels() + ax.get_yticklabels():
        t.set_fontfamily('DejaVu Sans')
        t.set_fontweight('bold')

# Labels
fig.text(24 / W, 1 - 246 / H, r'log  F$_\lambda$  [erg/s/cm$^2$/Å]', rotation=90,
         ha='center', va='center', fontsize=FS)
fig.text(342 / W, 1 - 520 / H, 'log  λ[Å]', ha='center', va='center', fontsize=FS)
fig.text(17 / W, 1 - 818 / H, 'Normalized  flux', rotation=90, ha='center', va='center', fontsize=FS)
fig.text(635 / W, 1 - 1095 / H, 'λ[Å]', ha='center', va='center', fontsize=FS)

fig.savefig('out.png', dpi=100)
